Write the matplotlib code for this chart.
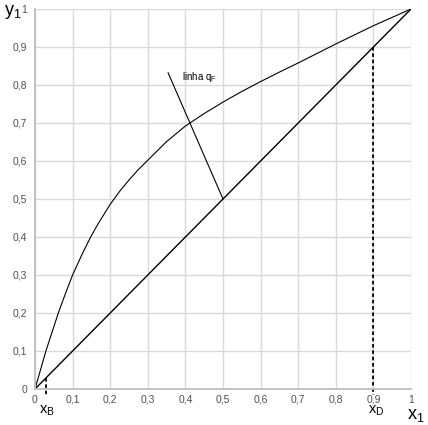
import matplotlib
matplotlib.use("Agg")
import matplotlib.pyplot as plt

plt.rcParams['font.family'] = ['Liberation Sans', 'DejaVu Sans']
plt.rcParams['mathtext.fontset'] = 'custom'
plt.rcParams['mathtext.rm'] = 'Liberation Sans'

# curva de equilibrio
x_eq = [0, 0.029, 0.062, 0.079, 0.1, 0.124, 0.148, 0.168, 0.2, 0.225, 0.25, 0.275,
        0.3, 0.35, 0.4, 0.45, 0.5, 0.55, 0.6, 0.65, 0.7, 0.8, 0.9, 1.0]
y_eq = [0, 0.1, 0.2, 0.246, 0.3, 0.352, 0.4, 0.435, 0.486, 0.52, 0.55, 0.5775,
        0.602, 0.651, 0.692, 0.725, 0.755, 0.783, 0.809, 0.834, 0.858, 0.908, 0.956, 1.0]

x_diag = [0, 1]
y_diag = [0, 1]

x_q = [0.5, 0.354]
y_q = [0.5, 0.832]

xB = 0.028
xD = 0.9

ticks = [0, 0.1, 0.2, 0.3, 0.4, 0.5, 0.6, 0.7, 0.8, 0.9, 1]
tick_labels = ['0', '0,1', '0,2', '0,3', '0,4', '0,5', '0,6', '0,7', '0,8', '0,9', '1']

fig = plt.figure(figsize=(4.28, 4.25), dpi=100)
ax = fig.add_axes([35/428, 36/425, 376/428, 380/425])

ax.plot(x_eq, y_eq, color='black', lw=0.8, solid_joinstyle='round')
ax.plot(x_diag, y_diag, color='black', lw=1.0)
ax.plot(x_q, y_q, color='black', lw=0.8)

ax.plot([xB, xB], [xB, -0.02], color='black', lw=1.3, ls=(0, (2, 1.5)), clip_on=False)
ax.plot([xD, xD], [xD, -0.015], color='black', lw=1.3, ls=(0, (2, 1.5)), clip_on=False)

ax.text(0.392, 0.822, r'linha $\mathregular{q_F}$', fontsize=7, va='center')

ax.set_xlim(0, 1)
ax.set_ylim(0, 1)
ax.set_xticks(ticks)
ax.set_yticks(ticks)
ax.set_xticklabels(tick_labels, fontsize=7.5, color='#505050')
ax.set_yticklabels(tick_labels, fontsize=7.5, color='#505050')
ax.tick_params(axis='x', length=0, pad=4)
ax.tick_params(axis='y', length=0, pad=5.5)
ax.grid(True, color='#d9d9d9', lw=1)
ax.set_axisbelow(True)
for s in ['top', 'right']:
    ax.spines[s].set_visible(False)
for s in ['left', 'bottom']:
    ax.spines[s].set_color('#bfbfbf')
    ax.spines[s].set_linewidth(1.3)

fig.text(4/428, 1 - 12/425, r'$\mathregular{y_1}$', fontsize=13, va='center', ha='left')
fig.text(407/428, 1 - 415/425, r'$\mathregular{x_1}$', fontsize=13, va='center', ha='left')
fig.text(47/428, 1 - 411/425, r'$\mathregular{x_B}$', fontsize=10.5, va='center', ha='center')
fig.text(376/428, 1 - 411/425, r'$\mathregular{x_D}$', fontsize=10.5, va='center', ha='center')

fig.savefig('out.png', dpi=100)
